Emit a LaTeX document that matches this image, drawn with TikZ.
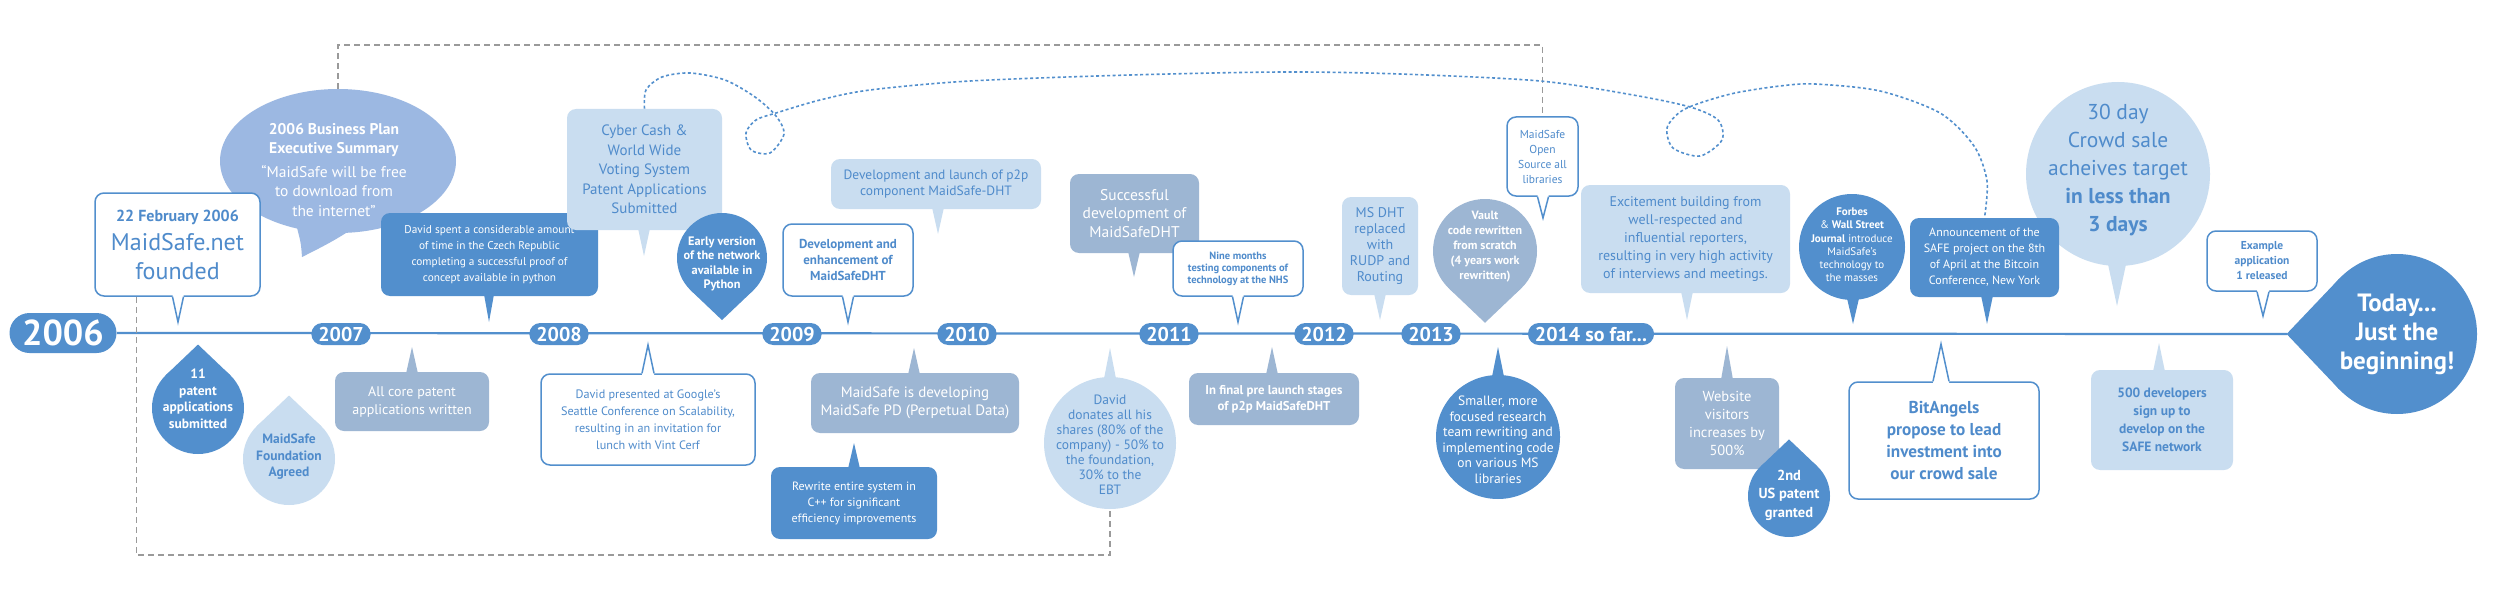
\documentclass[tikz,border=0pt]{standalone}
\usepackage{fontspec}
\setmainfont{PT Sans}
\usetikzlibrary{calc,shapes}

\definecolor{dblue}{HTML}{528FCD}
\definecolor{gblue}{HTML}{9DB6D3}
\definecolor{lblue}{HTML}{C9DDF0}
\definecolor{pblue}{HTML}{9CB8E2}
\definecolor{tblue}{HTML}{4F8BCB}
\definecolor{dashgrey}{HTML}{9A9A9A}

\newcommand\fsz[2]{\fontsize{#1}{#2}\selectfont}
% filled tail: [half width]{colour}{edge anchor}{tip}
\newcommand\tail[4][6]{%
  \path ($(#3 -| #4)!-2pt!(#4)$) coordinate (tb);
  \fill[#2] ($(tb)+(-#1,0)$) -- (#4) -- ($(tb)+(#1,0)$) -- cycle;}
% outlined tail for the white boxes
\newcommand\opentail[3][6]{%
  \path ($(#2 -| #3)!-1.6pt!(#3)$) coordinate (tb) (#2 -| #3) coordinate (te);
  \fill[white] ($(tb)+(-#1,0)$) -- ($(te)+(-#1,0)$) -- (#3) -- ($(te)+(#1,0)$) -- ($(tb)+(#1,0)$) -- cycle;
  \draw[dblue,line width=1.5pt] ($(te)+(-#1,0)$) -- (#3) -- ($(te)+(#1,0)$);}
% pointed corner of a drop: {colour}{node}{radius}{angle}
\newcommand\droptip[4]{%
  \fill[#1] ($(#2.center)+(#4:1.38*#3)$) -- ($(#2.center)+(#4+44:#3)$) -- ($(#2.center)+(#4-44:#3)$) -- cycle;}

\begin{document}
\begin{tikzpicture}[x=1pt,y=-1pt,semithick,
    box/.style={rectangle,rounded corners=9pt,inner sep=0pt,align=center},
    darkbox/.style={box,fill=dblue,text=white},
    greybox/.style={box,fill=gblue,text=white},
    lightbox/.style={box,fill=lblue,text=tblue},
    openbox/.style={box,draw=dblue,line width=1.5pt,fill=white,text=tblue},
    yearpill/.style={rectangle,rounded corners=11pt,fill=dblue,text=white,
      minimum width=58pt,minimum height=22pt,inner xsep=7pt,inner ysep=0pt,
      font=\bfseries\fsz{20}{20}},
    blob/.style={circle,inner sep=0pt},
    words/.style={align=center,inner sep=0pt},
    timeline/.style={dblue,line width=2.2pt},
    greydash/.style={dashgrey,line width=1.2pt,dash pattern=on 6pt off 4pt},
    dotline/.style={dblue,line width=1.6pt,dash pattern=on 3pt off 2.5pt}]

  \fill[white] (0,0) rectangle (2500,591);
  \useasboundingbox (0,0) rectangle (2500,591);

  % start, end and the line
  \node[yearpill,minimum width=107pt,minimum height=40pt,rounded corners=20pt,
    font=\bfseries\fsz{36}{36}] (y2006) at (63,333) {2006};
  \node[blob,fill=dblue,minimum size=160pt] (today) at (2397,334) {};
  \droptip{dblue}{today}{80}{180}
  \coordinate (today-tip) at ($(today.center)+(180:110)$);
  \node[words,text=white,font=\bfseries\fsz{25}{29}] (today-t) at (today) {Today...\\Just the\\beginning!};
  \draw[timeline] (y2006.east) -- (today-tip);

  \node[yearpill] (y2007) at (341,334) {2007};
  \node[yearpill] (y2008) at (559,334) {2008};
  \node[yearpill] (y2009) at (792,334) {2009};
  \node[yearpill] (y2010) at (967,334) {2010};
  \node[yearpill] (y2011) at (1169,334) {2011};
  \node[yearpill] (y2012) at (1324,334) {2012};
  \node[yearpill] (y2013) at (1431,334) {2013};
  \node[yearpill] (y2014) at (1591,334) {2014 so far...};

  % 2006 - 2007
  \node[ellipse,fill=pblue,minimum width=236pt,minimum height=144pt,inner sep=0pt] (plan) at (338,161) {};
  \fill[pblue] (296,224) .. controls (301,243) .. (302,257) .. controls (318,249) and (336,240) .. (352,229) -- cycle;
  \node[words,text=white,font=\fsz{15.5}{19.5}] (plan-t) at ($(plan)+(-4,9)$)
    {\textbf{2006 Business Plan}\\\textbf{Executive Summary}\\[4pt]“MaidSafe will be free\\to download from\\the internet”};

  \node[openbox,minimum width=165pt,minimum height=103pt,font=\fsz{24}{29}] (founded) at (177.5,244.5)
    {{\bfseries\fsz{16}{29}22 February 2006}\\MaidSafe.net\\founded};
  \coordinate (founded-tip) at (178,322);
  \opentail[5.5]{founded.south}{founded-tip}

  \node[blob,fill=dblue,minimum size=92pt] (pat11) at (198,408) {};
  \droptip{dblue}{pat11}{46}{270}
  \node[words,text=white,font=\bfseries\fsz{13.5}{16.5}] (pat11-t) at ($(pat11)+(0,-9)$) {11\\patent\\applications\\submitted};

  \node[blob,fill=lblue,minimum size=92pt] (found) at (289,459) {};
  \droptip{lblue}{found}{46}{270}
  \node[words,text=tblue,font=\bfseries\fsz{13.5}{16.5}] (found-t) at ($(found)+(0,-2)$) {MaidSafe\\Foundation\\Agreed};

  \node[greybox,minimum width=154pt,minimum height=59pt,font=\fsz{14}{18}] (corepat) at (412,401.5)
    {All core patent\\applications written};
  \coordinate (corepat-tip) at (412,347);
  \tail{gblue}{corepat.north}{corepat-tip}

  % 2007 - 2009
  \node[darkbox,minimum width=217pt,minimum height=83pt,font=\fsz{11.3}{16}] (czech) at (489.5,254.5)
    {David spent a considerable amount\\of time in the Czech Republic\\completing a successful proof of\\concept available in python};
  \coordinate (czech-tip) at (489,322);
  \tail[5]{dblue}{czech.south}{czech-tip}

  \node[lightbox,minimum width=155pt,minimum height=121pt,font=\fsz{15}{19.5}] (cyber) at (644.5,169.5)
    {Cyber Cash \&\\World Wide\\Voting System\\Patent Applications\\Submitted};
  \coordinate (cyber-tip) at (644,256);
  \tail{lblue}{cyber.south}{cyber-tip}

  \node[blob,fill=dblue,minimum size=90pt] (python) at (722,258) {};
  \droptip{dblue}{python}{45}{90}
  \node[words,text=white,font=\bfseries\fsz{12.3}{14.3}] (python-t) at ($(python)+(0,6)$)
    {Early version\\of the network\\available in\\Python};

  \node[openbox,minimum width=214pt,minimum height=91pt,font=\fsz{12.2}{17}] (google) at (648,419.5)
    {David presented at Google’s\\Seattle Conference on Scalability,\\resulting in an invitation for\\lunch with Vint Cerf};
  \coordinate (google-tip) at (648,345);
  \opentail{google.north}{google-tip}

  % 2009 - 2011
  \node[lightbox,minimum width=210pt,minimum height=50pt,font=\fsz{13.5}{16}] (p2plaunch) at (936,184)
    {Development and launch of p2p\\component MaidSafe-DHT};
  \coordinate (p2plaunch-tip) at (938,234);
  \tail{lblue}{p2plaunch.south}{p2plaunch-tip}

  \node[openbox,minimum width=130pt,minimum height=72pt,font=\bfseries\fsz{13}{16}] (enhance) at (848,260)
    {Development and\\enhancement of\\MaidSafeDHT};
  \coordinate (enhance-tip) at (848,322);
  \opentail[5.5]{enhance.south}{enhance-tip}

  \node[greybox,minimum width=208pt,minimum height=60pt,font=\fsz{15}{18.5}] (perpetual) at (915,403)
    {MaidSafe is developing\\MaidSafe PD (Perpetual Data)};
  \coordinate (perpetual-tip) at (914,348);
  \tail{gblue}{perpetual.north}{perpetual-tip}

  \node[darkbox,minimum width=166pt,minimum height=72pt,font=\fsz{12}{16}] (rewrite) at (854,503)
    {Rewrite entire system in\\C++ for significant\\efficiency improvements};
  \coordinate (rewrite-tip) at (854,443);
  \tail{dblue}{rewrite.north}{rewrite-tip}

  \node[blob,fill=lblue,minimum size=132pt] (donate) at (1110,443) {};
  \coordinate (donate-tip) at (1110,348);
  \tail{lblue}{donate.north}{donate-tip}
  \node[words,text=tblue,font=\fsz{13.5}{15}] (donate-t) at ($(donate)+(0,2)$)
    {David\\donates all his\\shares (80\% of the\\company) - 50\% to\\the foundation,\\30\% to the\\EBT};

  % 2011 - 2013
  \node[greybox,minimum width=129pt,minimum height=79pt,font=\fsz{15.5}{18.5}] (success) at (1134.5,213.5)
    {Successful\\development of\\MaidSafeDHT};
  \coordinate (success-tip) at (1134,277);
  \tail{gblue}{success.south}{success-tip}

  \node[openbox,minimum width=130pt,minimum height=55pt,font=\bfseries\fsz{10.5}{12}] (nhs) at (1238,268.5)
    {Nine months\\testing components of\\technology at the NHS};
  \coordinate (nhs-tip) at (1238,322);
  \opentail[5.5]{nhs.south}{nhs-tip}

  \node[greybox,minimum width=170pt,minimum height=52pt,font=\bfseries\fsz{12.8}{16}] (prelaunch) at (1274,399)
    {In final pre launch stages\\of p2p MaidSafeDHT};
  \coordinate (prelaunch-tip) at (1272,347);
  \tail{gblue}{prelaunch.north}{prelaunch-tip}

  \node[lightbox,minimum width=76pt,minimum height=98pt,font=\fsz{14}{16}] (msdht) at (1380,246)
    {MS DHT\\replaced\\with\\RUDP and\\Routing};
  \coordinate (msdht-tip) at (1380,320);
  \tail{lblue}{msdht.south}{msdht-tip}

  % 2013 - 2014
  \node[blob,fill=gblue,minimum size=104pt] (vault) at (1485,251) {};
  \droptip{gblue}{vault}{52}{90}
  \node[words,text=white,font=\bfseries\fsz{12}{15}] (vault-t) at ($(vault)+(0,-4)$)
    {Vault\\code rewritten\\from scratch\\(4 years work\\rewritten)};

  \node[blob,fill=dblue,minimum size=124pt] (focused) at (1498,437) {};
  \coordinate (focused-tip) at (1498,347);
  \tail{dblue}{focused.north}{focused-tip}
  \node[words,text=white,font=\fsz{13.5}{15.5}] (focused-t) at ($(focused)+(0,3)$)
    {Smaller, more\\focused research\\team rewriting and\\implementing code\\on various MS\\libraries};

  \node[openbox,minimum width=71pt,minimum height=79pt,font=\fsz{11.5}{15}] (opensrc) at (1542.5,156.5)
    {MaidSafe\\Open\\Source all\\libraries};
  \coordinate (opensrc-tip) at (1543,218);
  \opentail[5.5]{opensrc.south}{opensrc-tip}

  % 2014
  \node[lightbox,minimum width=209pt,minimum height=108pt,font=\fsz{14}{18}] (excite) at (1685.5,239)
    {Excitement building from\\well-respected and\\influential reporters,\\resulting in very high activity\\of interviews and meetings.};
  \coordinate (excite-tip) at (1687,320);
  \tail{lblue}{excite.south}{excite-tip}

  \node[greybox,minimum width=104pt,minimum height=91pt,font=\fsz{14.5}{18}] (website) at (1727,423.5)
    {Website\\visitors\\increases by\\500\%};
  \coordinate (website-tip) at (1727,346);
  \tail{gblue}{website.north}{website-tip}

  \node[blob,fill=dblue,minimum size=82pt] (uspat) at (1789,496) {};
  \droptip{dblue}{uspat}{41}{270}
  \node[words,text=white,font=\bfseries\fsz{14.5}{18.5}] (uspat-t) at ($(uspat)+(0,-1)$)
    {2nd\\US patent\\granted};

  \node[blob,fill=dblue,minimum size=106pt] (forbes) at (1852,247) {};
  \coordinate (forbes-tip) at (1853,324);
  \tail{dblue}{forbes.south}{forbes-tip}
  \node[words,text=white,font=\fsz{11}{13.2}] (forbes-t) at ($(forbes)+(0,-2)$)
    {\textbf{Forbes}\\\& \textbf{Wall Street}\\\textbf{Journal} introduce\\MaidSafe’s\\technology to\\the masses};

  \node[blob,fill=lblue,minimum size=184pt] (crowd) at (2118,174) {};
  \coordinate (crowd-tip) at (2117,306);
  \tail[9]{lblue}{crowd.south}{crowd-tip}
  \node[words,text=tblue,font=\fsz{21.5}{28}] (crowd-t) at ($(crowd)+(0,-4)$)
    {30 day\\Crowd sale\\acheives target\\\textbf{in less than}\\\textbf{3 days}};

  \node[darkbox,minimum width=149pt,minimum height=79pt,font=\fsz{12}{16}] (announce) at (1984.5,257.5)
    {Announcement of the\\SAFE project on the 8th\\of April at the Bitcoin\\Conference, New York};
  \coordinate (announce-tip) at (1987,324);
  \tail{dblue}{announce.south}{announce-tip}

  \node[openbox,minimum width=190pt,minimum height=117pt,font=\bfseries\fsz{17.2}{22}] (bitangels) at (1944,440.5)
    {BitAngels\\propose to lead\\investment into\\our crowd sale};
  \coordinate (bitangels-tip) at (1941,344);
  \opentail[8]{bitangels.north}{bitangels-tip}

  \node[lightbox,minimum width=142pt,minimum height=100pt,font=\bfseries\fsz{13.5}{18}] (devs) at (2162,420)
    {500 developers\\sign up to\\develop on the\\SAFE network};
  \coordinate (devs-tip) at (2159,343);
  \tail{lblue}{devs.north}{devs-tip}

  \node[openbox,minimum width=110pt,minimum height=60pt,font=\bfseries\fsz{11.5}{15}] (exapp) at (2262,261)
    {Example\\application\\1 released};
  \coordinate (exapp-tip) at (2263,316);
  \opentail{exapp.south}{exapp-tip}

  % grey dashed links
  \coordinate (topline) at (0,45);
  \coordinate (botline) at (0,555);
  \draw[greydash] (plan.north) |- (opensrc.north |- topline) -- (opensrc.north);
  \draw[greydash] ($(founded.south)+(-41,0)$) |- (donate.south |- botline) -- (donate.south);

  % blue dotted loop line
  \draw[dotline] plot[smooth,tension=0.5] coordinates {(cyber.north) (646,90) (662,77) (690,73) (725,80)
    (755,97) (776,116) (784,134) (770,153) (751,150) (746,133) (756,120) (776,113) (820,100) (870,90)
    (970,81) (1130,75) (1283,72) (1400,74) (1540,81) (1633,95) (1690,107) (1718,120) (1722,140)
    (1700,156) (1673,148) (1667,128) (1680,112) (1700,103) (1735,93) (1780,86) (1815,84) (1880,91)
    (1940,113) (1974,146) (1987,181) (announce.north)};
\end{tikzpicture}
\end{document}
